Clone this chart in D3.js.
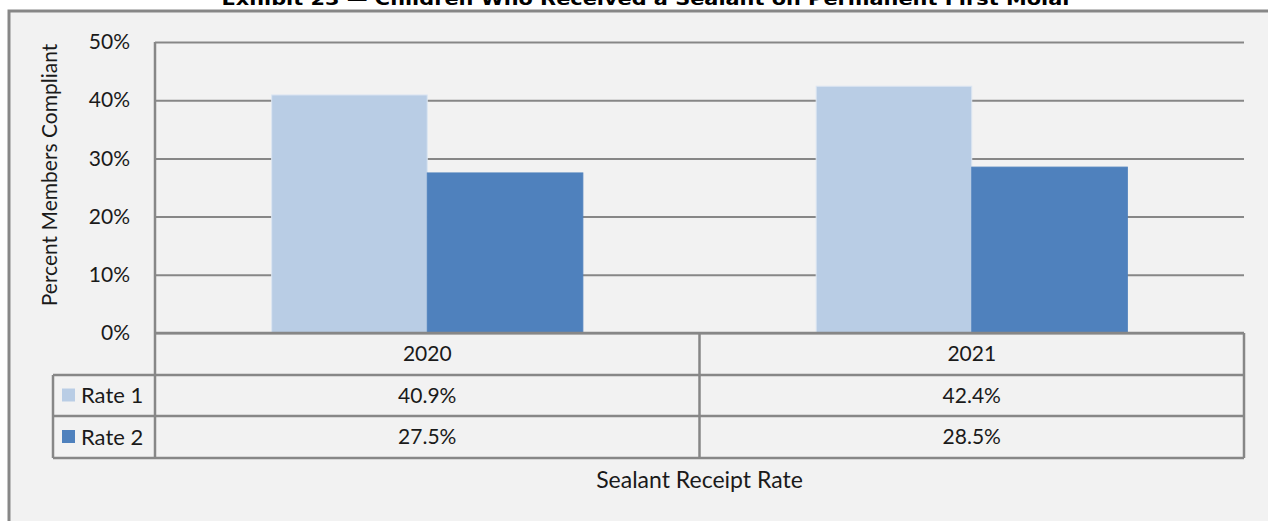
<!DOCTYPE html>
<html><head><meta charset="utf-8">
<script src="https://cdn.jsdelivr.net/npm/d3@7"></script>
<style>
html,body{margin:0;padding:0;background:#fff;}
svg{display:block;}
</style></head>
<body>
<script>
const categories = ["2020", "2021"];
const seriesNames = ["Rate 1", "Rate 2"];
const rate1 = [40.9, 42.4];
const rate2 = [27.5, 28.5];
const yTicks = [0, 10, 20, 30, 40, 50];
const titleText = "Exhibit 23 \u2014 Children Who Received a Sealant on Permanent First Molar";
const yAxisTitle = "Percent Members Compliant";
const xAxisTitle = "Sealant Receipt Rate";

(function () {
const seriesValues = [rate1, rate2];
const colors = ["#b9cde5", "#4f81bd"];
const strokes = ["#dce6f2", "#4f81bd"];
const W = 1268, H = 521;
const font = "Lato, 'Open Sans', sans-serif";
const textCol = "#1a1a1a";
const gridCol = "#878787";

const svg = d3.select("body").append("svg").attr("width", W).attr("height", H);

svg.append("rect").attr("x", 9).attr("y", 11).attr("width", 1300).attr("height", 600)
  .attr("fill", "#f2f2f2").attr("stroke", "#878787").attr("stroke-width", 3);

svg.append("text").attr("x", 647).attr("y", 5).attr("text-anchor", "middle")
  .attr("font-family", "'DejaVu Sans', sans-serif").attr("font-weight", "bold").attr("font-size", 17)
  .attr("fill", "#000").attr("textLength", 851).attr("lengthAdjust", "spacingAndGlyphs")
  .text(titleText);

const pLeft = 155, pRight = 1244, pTop = 42, pBottom = 333;
const x = d3.scaleBand().domain(categories).range([pLeft, pRight]).paddingInner(0).paddingOuter(0);
const y = d3.scaleLinear().domain([0, 50]).range([pBottom, pTop]);
const inner = d3.scaleBand().domain(seriesNames).range([0, x.bandwidth()]).paddingInner(0).paddingOuter(0.75);

const yAxis = d3.axisLeft(y).tickValues(yTicks).tickSize(-(pRight - pLeft)).tickFormat(d => d + "%").tickPadding(25);
const gAxis = svg.append("g").attr("transform", `translate(${pLeft},0)`).call(yAxis);
gAxis.select(".domain").remove();
gAxis.selectAll(".tick line").attr("stroke", gridCol).attr("stroke-width", 2);
gAxis.selectAll(".tick text").attr("font-family", font).attr("font-size", 21).attr("fill", textCol).attr("dy", "0.32em");

seriesNames.forEach((s, si) => {
  svg.append("g").selectAll("rect").data(categories).join("rect")
    .attr("x", c => x(c) + inner(s))
    .attr("y", (c, i) => y(seriesValues[si][i]))
    .attr("width", inner.bandwidth())
    .attr("height", (c, i) => y(0) - y(seriesValues[si][i]))
    .attr("fill", colors[si]).attr("stroke", strokes[si]).attr("stroke-width", 1);
});

const rowLines = [pBottom, 375, 416, 458];
const tbl = svg.append("g").attr("stroke", gridCol).attr("stroke-width", 2.5).attr("fill", "none");
tbl.append("line").attr("x1", pLeft).attr("x2", pLeft).attr("y1", pTop).attr("y2", rowLines[3]);
tbl.append("line").attr("x1", pRight).attr("x2", pRight).attr("y1", pBottom).attr("y2", rowLines[3]);
tbl.append("line").attr("x1", x(categories[1])).attr("x2", x(categories[1])).attr("y1", pBottom).attr("y2", rowLines[3]);
[1, 2, 3].forEach(i => tbl.append("line").attr("x1", 53).attr("x2", pRight).attr("y1", rowLines[i]).attr("y2", rowLines[i]));
tbl.append("line").attr("x1", 53).attr("x2", 53).attr("y1", rowLines[1]).attr("y2", rowLines[3]);
tbl.append("line").attr("x1", pLeft).attr("x2", pRight).attr("y1", pBottom).attr("y2", pBottom);

svg.append("g").selectAll("text").data(categories).join("text")
  .attr("x", c => x(c) + x.bandwidth() / 2).attr("y", (rowLines[0] + rowLines[1]) / 2)
  .attr("dy", "0.35em").attr("text-anchor", "middle")
  .attr("font-family", font).attr("font-size", 21).attr("fill", textCol).text(c => c);

seriesNames.forEach((s, si) => {
  const cy = (rowLines[si + 1] + rowLines[si + 2]) / 2;
  svg.append("g").selectAll("text").data(categories).join("text")
    .attr("x", c => x(c) + x.bandwidth() / 2).attr("y", cy)
    .attr("dy", "0.35em").attr("text-anchor", "middle")
    .attr("font-family", font).attr("font-size", 21).attr("fill", textCol)
    .text((c, i) => seriesValues[si][i].toFixed(1) + "%");
  svg.append("rect").attr("x", 62).attr("y", cy - 7).attr("width", 13).attr("height", 13).attr("fill", colors[si]);
  svg.append("text").attr("x", 81).attr("y", cy).attr("dy", "0.35em")
    .attr("font-family", font).attr("font-size", 22).attr("fill", textCol).text(s);
});

svg.append("text").attr("transform", `translate(57,175) rotate(-90)`).attr("text-anchor", "middle")
  .attr("font-family", font).attr("font-size", 21).attr("fill", textCol).text(yAxisTitle);
svg.append("text").attr("x", (pLeft + pRight) / 2).attr("y", 480).attr("dy", "0.35em").attr("text-anchor", "middle")
  .attr("font-family", font).attr("font-size", 23).attr("fill", textCol).text(xAxisTitle);
})();
</script>
</body></html>
